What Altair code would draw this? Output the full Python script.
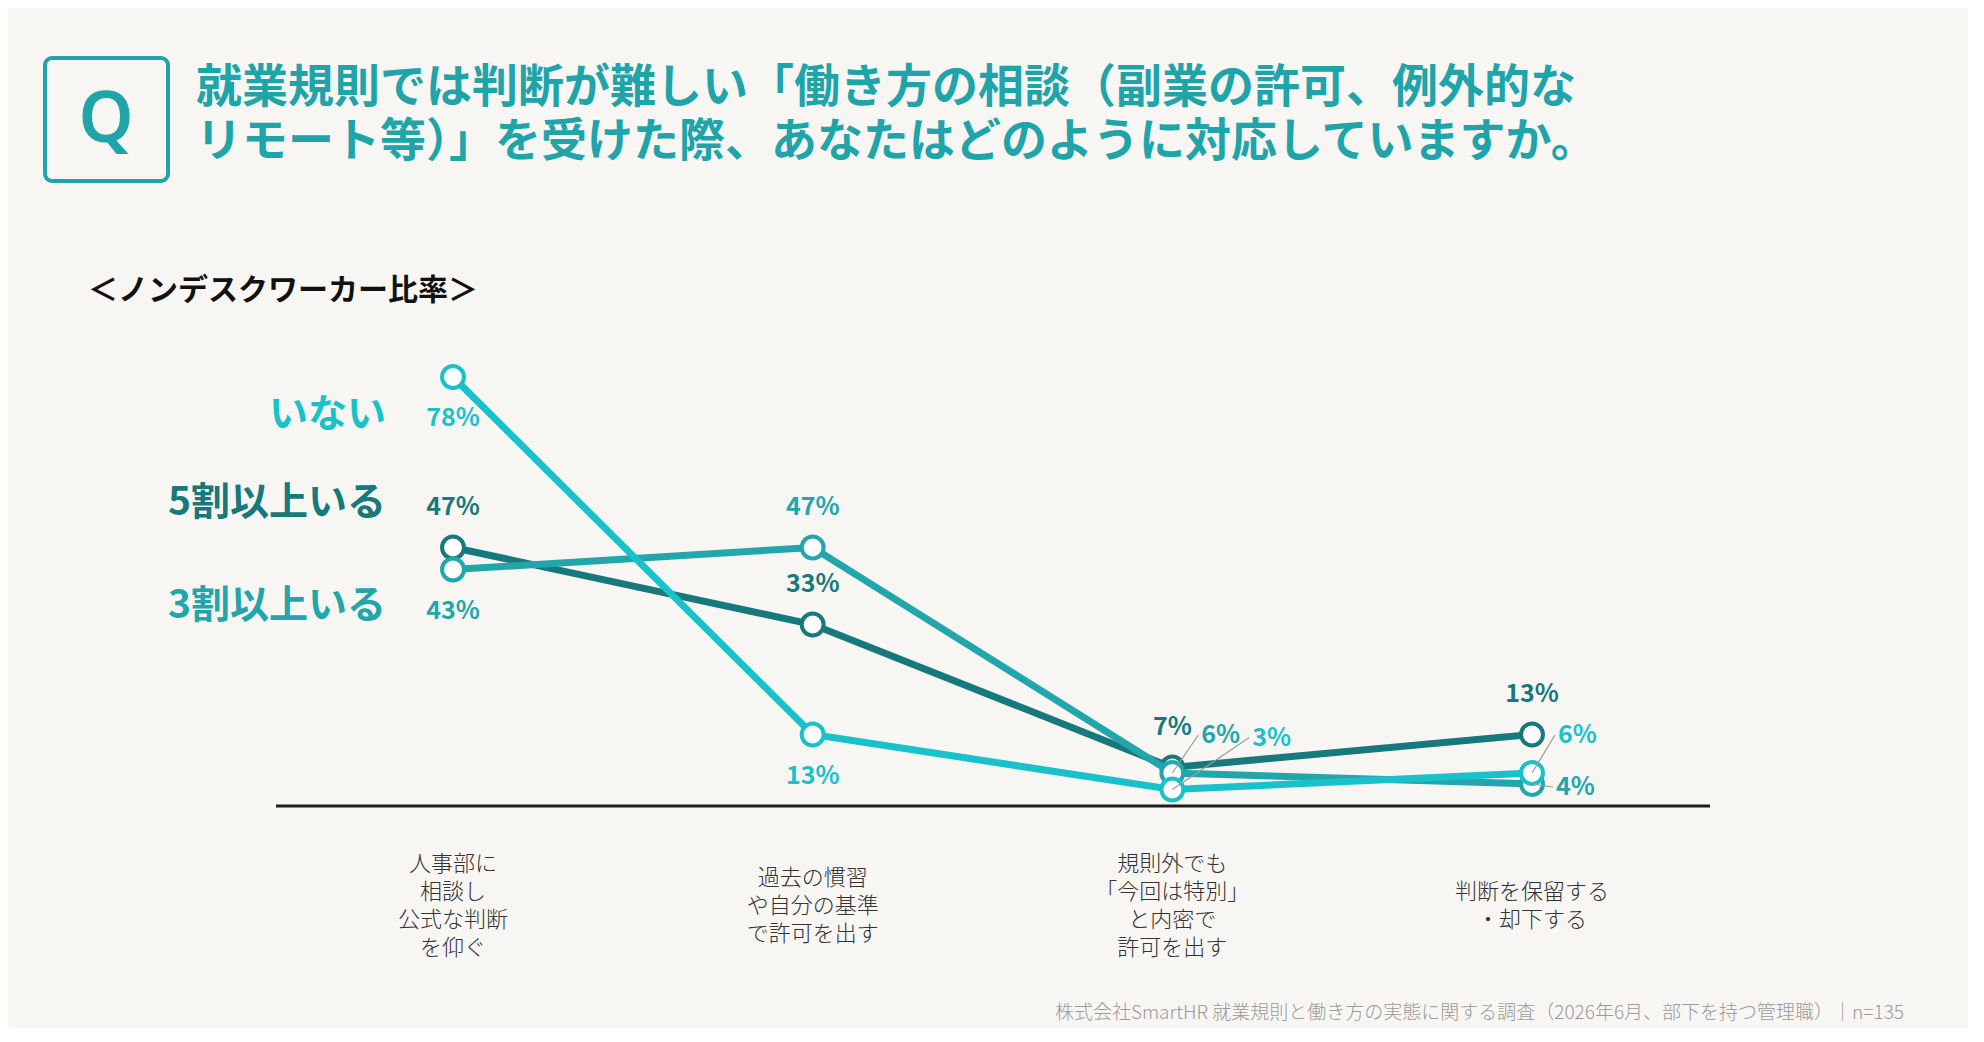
import altair as alt
import pandas as pd

# ---------------- data ----------------
CATEGORIES = [
    "人事部に\n相談し\n公式な判断\nを仰ぐ",
    "過去の慣習\nや自分の基準\nで許可を出す",
    "規則外でも\n「今回は特別」\nと内密で\n許可を出す",
    "判断を保留する\n・却下する",
]
SERIES_NAMES = ["5割以上いる", "3割以上いる", "いない"]  # drawing order (bottom -> top)
VAL_50 = [47, 33, 7, 13]   # 5割以上いる
VAL_30 = [43, 47, 6, 4]    # 3割以上いる
VAL_NONE = [78, 13, 3, 6]  # いない

TITLE_LINES = [
    "就業規則では判断が難しい「働き方の相談（副業の許可、例外的な",
    "リモート等）」を受けた際、あなたはどのように対応していますか。",
]
SUBTITLE = "＜ノンデスクワーカー比率＞"
FOOTER = "株式会社SmartHR 就業規則と働き方の実態に関する調査（2026年6月、部下を持つ管理職）｜n=135"

# ---------------- styling / layout ----------------
COLORS = {"いない": "#19C2CA", "5割以上いる": "#16797B", "3割以上いる": "#22A6AB"}
TEAL = "#1FA4A9"
BG = "#F7F6F3"
FONT = "Noto Sans CJK JP"

W, H = 1960, 1020
X_RANGE = [445, 1524]
Y_RANGE = [798, 248]  # 0% -> 798, 100% -> 248
PX_PER_IDX = (X_RANGE[1] - X_RANGE[0]) / 3
PX_PER_PCT = (Y_RANGE[0] - Y_RANGE[1]) / 100
CAT_CENTER_Y = 898
CAT_LINE_H = 28

LABEL_POS = {
    ("いない", 0): "below", ("いない", 1): "below", ("いない", 2): "leader", ("いない", 3): "leader",
    ("5割以上いる", 0): "above", ("5割以上いる", 1): "above", ("5割以上いる", 2): "above", ("5割以上いる", 3): "above",
    ("3割以上いる", 0): "below", ("3割以上いる", 1): "above", ("3割以上いる", 2): "leader", ("3割以上いる", 3): "leader",
}
LEADER_OFFSETS = {  # pixel offset of label anchor from its point
    ("3割以上いる", 2): (29, -38),
    ("いない", 2): (80, -52),
    ("いない", 3): (26, -38),
    ("3割以上いる", 3): (24, 3),
}

series_values = {"5割以上いる": VAL_50, "3割以上いる": VAL_30, "いない": VAL_NONE}
rows = []
for s in SERIES_NAMES:
    for i, v in enumerate(series_values[s]):
        pos = LABEL_POS[(s, i)]
        dx, dy = LEADER_OFFSETS.get((s, i), (0, 0))
        rows.append(dict(
            series=s, idx=i, value=v, label=f"{v}%", pos=pos,
            lx=i + dx / PX_PER_IDX, ly=v - dy / PX_PER_PCT,
            lx_end=i + (dx - 3) / PX_PER_IDX,
        ))
df = pd.DataFrame(rows)
cat_df = pd.DataFrame({
    "idx": list(range(len(CATEGORIES))),
    "cat": CATEGORIES,
    "nlines": [c.count("\n") + 1 for c in CATEGORIES],
})

xs = alt.Scale(domain=[0, 3], range=X_RANGE)
ys = alt.Scale(domain=[0, 100], range=Y_RANGE)
color_enc = alt.Color("series:N", scale=alt.Scale(domain=list(COLORS), range=list(COLORS.values())), legend=None)
one = alt.InlineData(values=[{"a": 1}])

layers = []

# Q box
layers.append(alt.Chart(one).mark_rect(fill=BG, stroke=TEAL, strokeWidth=4, cornerRadius=7).encode(
    x=alt.value(37), x2=alt.value(160), y=alt.value(50), y2=alt.value(173)))
layers.append(alt.Chart(one).mark_text(text="Q", font="Noto Sans", fontSize=70, fontWeight=600,
                                       color=TEAL, align="center", baseline="middle").encode(
    x=alt.value(98), y=alt.value(113)))
# title (two lines)
for line, yv in zip(TITLE_LINES, [80, 134]):
    layers.append(alt.Chart(one).mark_text(text=line, font=FONT, fontSize=46, fontWeight="bold",
                                           color=TEAL, align="left", baseline="middle").encode(
        x=alt.value(188), y=alt.value(yv)))
# subtitle
layers.append(alt.Chart(one).mark_text(text=SUBTITLE, font=FONT, fontSize=30, fontWeight="bold",
                                       color="#111111", align="left", baseline="middle").encode(
    x=alt.value(80), y=alt.value(283)))
# baseline axis
layers.append(alt.Chart(one).mark_rule(color="#1E1E1E", strokeWidth=3).encode(
    x=alt.value(268), x2=alt.value(1702), y=alt.Y(datum=0, type="quantitative", scale=ys, axis=None)))

# lines & points
for s in SERIES_NAMES:
    base = alt.Chart(df).transform_filter(alt.datum.series == s)
    layers.append(base.mark_line(color=COLORS[s], strokeWidth=7).encode(
        x=alt.X("idx:Q", scale=xs, axis=None), y=alt.Y("value:Q", scale=ys, axis=None)))
    layers.append(base.mark_point(shape="circle", filled=True, fill="#FFFFFF", stroke=COLORS[s],
                                  strokeWidth=4, size=480, opacity=1).encode(
        x=alt.X("idx:Q", scale=xs, axis=None), y=alt.Y("value:Q", scale=ys, axis=None)))

# leader lines
layers.append(alt.Chart(df).transform_filter(alt.datum.pos == "leader").mark_rule(
    color="#9A9A9A", strokeWidth=1.2).encode(
    x=alt.X("idx:Q", scale=xs, axis=None), y=alt.Y("value:Q", scale=ys, axis=None),
    x2="lx_end:Q", y2="ly:Q"))

# value labels
lab_style = dict(font=FONT, fontSize=25, fontWeight="bold", baseline="middle")
layers.append(alt.Chart(df).transform_filter(alt.datum.pos == "above").mark_text(
    align="center", dy=-41, **lab_style).encode(
    x=alt.X("idx:Q", scale=xs, axis=None), y=alt.Y("value:Q", scale=ys, axis=None),
    text="label:N", color=color_enc))
layers.append(alt.Chart(df).transform_filter(alt.datum.pos == "below").mark_text(
    align="center", dy=41, **lab_style).encode(
    x=alt.X("idx:Q", scale=xs, axis=None), y=alt.Y("value:Q", scale=ys, axis=None),
    text="label:N", color=color_enc))
layers.append(alt.Chart(df).transform_filter(alt.datum.pos == "leader").mark_text(
    align="left", **lab_style).encode(
    x=alt.X("lx:Q", scale=xs, axis=None), y=alt.Y("ly:Q", scale=ys, axis=None),
    text="label:N", color=color_enc))

# category labels (multi-line, block vertically centred)
for n in sorted(set(cat_df["nlines"])):
    layers.append(alt.Chart(cat_df).transform_filter(alt.datum.nlines == int(n)).mark_text(
        font=FONT, fontSize=22, fontWeight=300, color="#333333", lineBreak="\n",
        lineHeight=CAT_LINE_H, align="center", baseline="middle",
        dy=-(int(n) - 1) * CAT_LINE_H / 2).encode(
        x=alt.X("idx:Q", scale=xs, axis=None), y=alt.value(CAT_CENTER_Y), text="cat:N"))

# series name labels (legend)
for s, yv in [("いない", 407), ("5割以上いる", 495), ("3割以上いる", 598)]:
    layers.append(alt.Chart(one).mark_text(text=s, font=FONT, fontSize=39, fontWeight="bold",
                                           color=COLORS[s], align="right", baseline="middle").encode(
        x=alt.value(378), y=alt.value(yv)))

# footer
layers.append(alt.Chart(one).mark_text(text=FOOTER, font=FONT, fontSize=19, fontWeight=300,
                                       color="#9A9A9A", align="right", baseline="middle").encode(
    x=alt.value(1896), y=alt.value(1005)))

chart = alt.layer(*layers).properties(
    width=W, height=H, padding=0, background=BG,
    autosize=alt.AutoSizeParams(type="none"),
).configure_view(stroke=None)

chart.save("out.html", embed_options={"renderer": "svg", "actions": False})
